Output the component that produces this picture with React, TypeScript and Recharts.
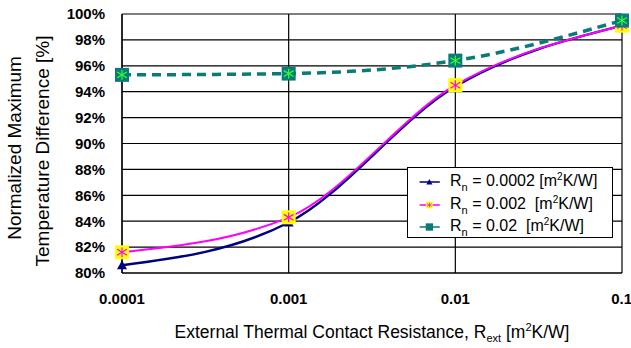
import { LineChart, Line, XAxis, YAxis, CartesianGrid, Label } from 'recharts';

const resistances = [0.0001, 0.001, 0.01, 0.1];
const rn00002 = [80.6, 83.9, 94.4, 99.1];
const rn0002 = [81.6, 84.3, 94.5, 99.1];
const rn002 = [95.3, 95.4, 96.4, 99.5];
const yTicks = [80, 82, 84, 86, 88, 90, 92, 94, 96, 98, 100];

// x is plotted on a log axis: position by decade exponent
const data = resistances.map((r, i) => ({ x: Math.log10(r), a: rn00002[i], b: rn0002[i], c: rn002[i] }));
const xTicks = resistances.map((r) => Math.log10(r));

const NAVY = '#000080';
const MAGENTA = '#ff00ff';
const TEAL = '#0a7c78';
const FONT = '"Liberation Sans", Arial, sans-serif';

function Triangle(props: any) {
  const { cx, cy } = props;
  if (cx == null || cy == null) return null;
  return <polygon points={`${cx - 5},${cy + 4} ${cx + 5},${cy + 4} ${cx},${cy - 5}`} fill={NAVY} />;
}

function StarBox({ cx, cy, size, bg, fg }: any) {
  const h = size / 2;
  const a = h * 0.7;
  return (
    <g>
      <rect x={cx - h} y={cy - h} width={size} height={size} fill={bg} />
      <line x1={cx} y1={cy - a} x2={cx} y2={cy + a} stroke={fg} strokeWidth={1.2} />
      <line x1={cx - a} y1={cy - a * 0.6} x2={cx + a} y2={cy + a * 0.6} stroke={fg} strokeWidth={1.2} />
      <line x1={cx - a} y1={cy + a * 0.6} x2={cx + a} y2={cy - a * 0.6} stroke={fg} strokeWidth={1.2} />
    </g>
  );
}

const yellowDot = (p: any) => (p.cx == null ? null : <StarBox key={p.index} cx={p.cx} cy={p.cy} size={14} bg="#ffff00" fg={MAGENTA} />);
const tealDot = (p: any) => (p.cx == null ? null : <StarBox key={p.index} cx={p.cx} cy={p.cy} size={14} bg={TEAL} fg="#33ff33" />);

function LegendBox() {
  const rows = [
    { v: '0.0002', color: NAVY, marker: <polygon points="11,24 21,24 16,15" fill={NAVY} /> },
    { v: '0.002', color: MAGENTA, marker: <StarBox cx={16} cy={20} size={11} bg="#ffff00" fg={MAGENTA} /> },
    { v: '0.02', color: TEAL, marker: <rect x={10} y={14} width={12} height={12} fill={TEAL} /> },
  ];
  return (
    <div style={{ position: 'absolute', left: 407, top: 167, width: 206, height: 71, border: '1px solid #000', background: '#fff', fontFamily: FONT, fontSize: 16, boxSizing: 'border-box', paddingTop: 3 }}>
      {rows.map((r) => (
        <div key={r.v} style={{ display: 'flex', alignItems: 'center', height: 22.5 }}>
          <svg width={40} height={22} viewBox="0 2 34 36" style={{ overflow: 'visible', marginLeft: 2 }}>
            <line x1={0} y1={20} x2={33} y2={20} stroke={r.color} strokeWidth={2.5} />
            {r.marker}
          </svg>
          <span style={{ whiteSpace: 'pre' }}>
            R<sub style={{ fontSize: 11 }}>n</sub> = {r.v}{r.v.length < 6 ? '  ' : ' '}[m<sup style={{ fontSize: 10 }}>2</sup>K/W]
          </span>
        </div>
      ))}
    </div>
  );
}

export default function App() {
  return (
    <div style={{ position: 'absolute', left: 0, top: 0, width: 631, height: 348, background: '#fff' }}>
      <LineChart width={631} height={348} data={data} margin={{ top: 14, right: 9, bottom: 0, left: 0 }}>
        <CartesianGrid stroke="#000" strokeWidth={1.2} />
        <XAxis
          dataKey="x"
          type="number"
          domain={[-4, -1]}
          ticks={xTicks}
          tickFormatter={(v) => String(Math.pow(10, v))}
          height={75}
          axisLine={{ stroke: '#000', strokeWidth: 1.2 }}
          tickLine={false}
          tickSize={0}
          tickMargin={20}
          tick={{ fill: '#000', fontSize: 15, fontFamily: FONT, fontWeight: 'bold' }}
        >
          <Label
            content={() => (
              <text x={372} y={338} textAnchor="middle" fontFamily={FONT} fontSize={17.5} fill="#000">
                External Thermal Contact Resistance, R<tspan dy={4} fontSize={11}>ext</tspan>
                <tspan dy={-4}> [m</tspan>
                <tspan dy={-7} fontSize={11}>2</tspan>
                <tspan dy={7}>K/W]</tspan>
              </text>
            )}
          />
        </XAxis>
        <YAxis
          type="number"
          domain={[80, 100]}
          ticks={yTicks}
          tickFormatter={(v) => `${v}%`}
          width={122}
          axisLine={{ stroke: '#000', strokeWidth: 1.2 }}
          tickLine={false}
          tickSize={0}
          tickMargin={17}
          tick={{ fill: '#000', fontSize: 15, fontFamily: FONT, fontWeight: 'bold' }}
        >
          <Label
            content={() => (
              <g fontFamily={FONT} fontSize={19} fill="#000">
                <text transform="translate(21,148) rotate(-90)" textAnchor="middle">Normalized Maximum</text>
                <text transform="translate(49,151) rotate(-90)" textAnchor="middle">Temperature Difference [%]</text>
              </g>
            )}
          />
        </YAxis>
        <Line type="monotone" dataKey="a" stroke={NAVY} strokeWidth={2.5} dot={<Triangle />} isAnimationActive={false} />
        <Line type="monotone" dataKey="b" stroke={MAGENTA} strokeWidth={2} dot={yellowDot} isAnimationActive={false} />
        <Line type="monotone" dataKey="c" stroke={TEAL} strokeWidth={3.5} strokeDasharray="9 6" dot={tealDot} isAnimationActive={false} />
      </LineChart>
      <LegendBox />
    </div>
  );
}
